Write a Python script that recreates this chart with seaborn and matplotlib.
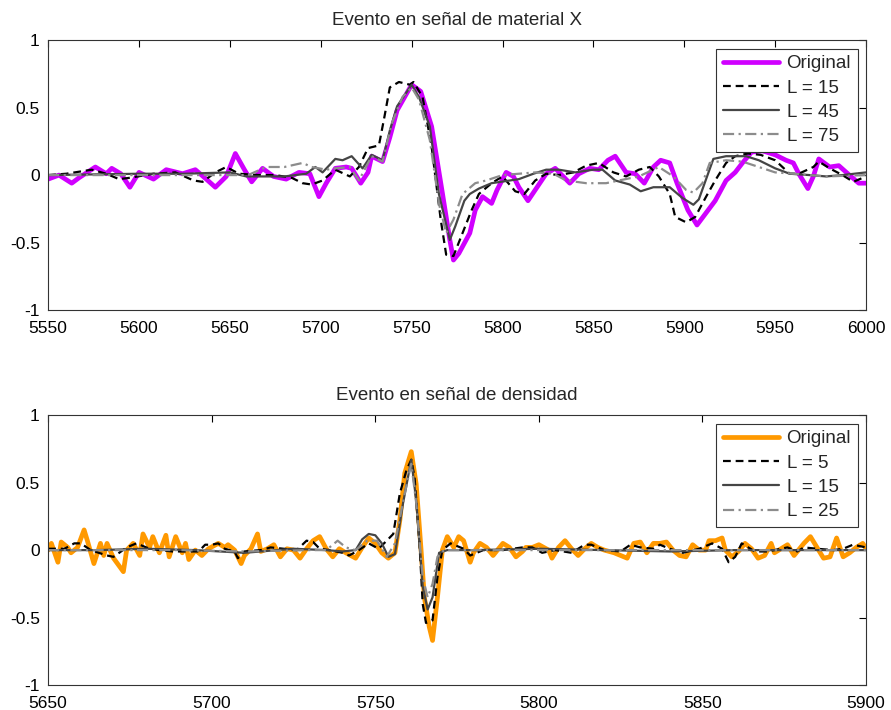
import matplotlib
matplotlib.use("Agg")
import matplotlib.pyplot as plt
import seaborn as sns

# ---- Evento en señal de material X ----
mat_orig_x = [5550, 5556, 5563, 5567, 5576, 5582, 5585, 5590, 5595, 5600, 5608, 5615, 5624, 5631, 5637,
              5642, 5648, 5653, 5658, 5662, 5668, 5674, 5681, 5688, 5694, 5699, 5703, 5708, 5714, 5717,
              5722, 5726, 5728, 5734, 5738, 5742, 5750, 5755, 5761, 5767, 5771, 5773, 5776, 5782, 5785,
              5789, 5794, 5797, 5802, 5806, 5809, 5814, 5818, 5824, 5829, 5837, 5842, 5848, 5853, 5858,
              5862, 5868, 5873, 5878, 5883, 5887, 5892, 5896, 5902, 5907, 5912, 5917, 5923, 5928, 5932,
              5937, 5943, 5950, 5956, 5960, 5963, 5968, 5971, 5974, 5980, 5985, 5990, 5996, 6000]
mat_orig_y = [-0.03, 0.0, -0.06, -0.02, 0.06, 0.01, 0.05, 0.01, -0.09, 0.02, -0.03, 0.04, 0.01, 0.04, -0.03,
              -0.09, -0.01, 0.16, 0.04, -0.05, 0.05, -0.01, -0.03, 0.02, 0.01, -0.16, -0.06, 0.05, 0.06, 0.05,
              -0.06, 0.02, 0.14, 0.10, 0.28, 0.48, 0.67, 0.62, 0.36, -0.14, -0.48, -0.63, -0.58, -0.43, -0.26,
              -0.16, -0.21, -0.11, 0.02, -0.01, -0.09, -0.19, -0.11, 0.01, 0.05, -0.06, 0.01, 0.05, 0.04, 0.11,
              0.14, 0.02, 0.01, -0.06, 0.06, 0.11, 0.09, -0.06, -0.26, -0.37, -0.28, -0.19, -0.04, 0.02, 0.09,
              0.17, 0.18, 0.15, 0.11, 0.09, 0.01, -0.10, -0.01, 0.12, 0.06, 0.07, 0.01, -0.06, -0.06]

mat_l15_x = [5550, 5560, 5574, 5582, 5589, 5595, 5608, 5620, 5630, 5635, 5642, 5648, 5655, 5666, 5675,
             5684, 5690, 5695, 5701, 5708, 5716, 5721, 5726, 5732, 5735, 5738, 5743, 5749, 5751, 5756,
             5761, 5766, 5769, 5773, 5778, 5783, 5787, 5794, 5800, 5807, 5812, 5818, 5824, 5831, 5839,
             5846, 5853, 5861, 5868, 5875, 5881, 5886, 5892, 5895, 5901, 5906, 5912, 5917, 5923, 5928,
             5935, 5942, 5950, 5958, 5963, 5971, 5974, 5980, 5987, 5993, 6000]
mat_l15_y = [0.0, 0.01, 0.04, 0.01, -0.03, -0.02, 0.01, 0.02, -0.04, -0.05, 0.02, 0.06, 0.01, 0.0, 0.0,
             -0.02, -0.06, -0.07, -0.04, 0.04, -0.01, 0.06, 0.20, 0.22, 0.43, 0.65, 0.69, 0.67, 0.69, 0.58,
             0.21, -0.33, -0.59, -0.60, -0.43, -0.26, -0.14, -0.06, -0.01, -0.12, -0.14, -0.04, 0.01, 0.0, 0.02,
             0.07, 0.09, 0.02, -0.01, 0.04, 0.06, -0.01, -0.14, -0.31, -0.35, -0.31, -0.16, -0.04, 0.09, 0.14,
             0.16, 0.15, 0.11, 0.01, 0.01, 0.06, 0.10, 0.05, 0.0, -0.05, -0.01]

mat_l45_x = [5550, 5600, 5625, 5650, 5659, 5680, 5692, 5697, 5701, 5708, 5712, 5717, 5723, 5728, 5734,
             5738, 5742, 5750, 5754, 5760, 5765, 5771, 5774, 5779, 5782, 5787, 5794, 5804, 5809, 5817,
             5824, 5831, 5840, 5850, 5855, 5862, 5870, 5876, 5883, 5892, 5899, 5905, 5908, 5916, 5923,
             5934, 5941, 5950, 5958, 5969, 5978, 5987, 6000]
mat_l45_y = [0.0, 0.01, 0.01, 0.02, -0.01, -0.01, 0.01, 0.06, 0.02, 0.12, 0.11, 0.14, 0.05, 0.15, 0.11,
             0.33, 0.51, 0.67, 0.58, 0.36, -0.14, -0.48, -0.38, -0.19, -0.14, -0.10, -0.06, -0.04, -0.03, 0.01,
             0.04, 0.04, 0.02, 0.04, 0.04, -0.04, -0.07, -0.12, -0.09, -0.09, -0.17, -0.22, -0.18, 0.12, 0.14,
             0.14, 0.11, 0.05, 0.01, 0.0, -0.01, 0.0, 0.02]

mat_l75_x = [5550, 5620, 5660, 5670, 5680, 5690, 5695, 5703, 5708, 5716, 5721, 5728, 5734, 5739, 5745,
             5750, 5754, 5760, 5765, 5769, 5773, 5778, 5785, 5791, 5800, 5809, 5818, 5828, 5835, 5846,
             5857, 5864, 5875, 5886, 5894, 5901, 5905, 5910, 5914, 5923, 5932, 5941, 5950, 5960, 5978, 6000]
mat_l75_y = [0.0, 0.0, 0.0, 0.06, 0.06, 0.09, 0.06, 0.04, 0.05, 0.06, -0.04, 0.14, 0.10, 0.38, 0.58,
             0.65, 0.56, 0.26, -0.21, -0.43, -0.33, -0.14, -0.06, -0.04, 0.0, 0.01, 0.02, 0.01, -0.04, -0.06,
             -0.06, -0.04, -0.01, 0.06, -0.01, -0.11, -0.13, -0.06, 0.09, 0.11, 0.10, 0.06, 0.02, 0.01, -0.01, 0.0]

# ---- Evento en señal de densidad ----
den_orig_x = [5650, 5651, 5653, 5654, 5656, 5657, 5659, 5661, 5662, 5664, 5666, 5667, 5668, 5670, 5673,
              5674, 5676, 5678, 5679, 5681, 5682, 5684, 5686, 5687, 5689, 5691,
              5692, 5693, 5695, 5697, 5699, 5702, 5704, 5705, 5707, 5709, 5710, 5712, 5714, 5715, 5717,
              5719, 5721, 5723, 5725, 5727, 5729, 5731, 5733,
              5735, 5737, 5739, 5741, 5744, 5746, 5748, 5750, 5752, 5754, 5756, 5757.5, 5759, 5761, 5762.5,
              5764, 5765, 5766.5, 5767.5, 5769, 5770.5, 5772, 5774, 5775.5,
              5777, 5779, 5780, 5782, 5784, 5786, 5789, 5791, 5793, 5795, 5796, 5798, 5800, 5803, 5804,
              5806, 5808, 5810, 5812, 5814, 5816, 5818,
              5820, 5823, 5825, 5827, 5829, 5831, 5833, 5835, 5837, 5839, 5841, 5843, 5845, 5847, 5849,
              5851, 5852, 5854, 5856, 5857, 5859, 5861, 5863,
              5865, 5867, 5869, 5871, 5872, 5874, 5876, 5878, 5881, 5883, 5885, 5887, 5889, 5891, 5893,
              5895, 5897, 5899, 5900]
den_orig_y = [0.0, 0.05, -0.09, 0.06, 0.02, -0.02, 0.02, 0.15, 0.07, -0.10, 0.05, -0.04, 0.05, -0.06, -0.16,
              0.0, 0.05, -0.04, 0.12, 0.02, 0.10, -0.02, 0.11, -0.05, 0.10, -0.02,
              0.05, -0.07, 0.0, -0.04, 0.01, 0.05, 0.02, 0.04, 0.0, -0.10, -0.04, 0.01, 0.12, -0.01, 0.01,
              0.04, -0.05, 0.01, 0.0, -0.06, 0.01, 0.07, 0.10,
              0.01, -0.05, 0.01, -0.02, -0.06, 0.02, 0.09, 0.05, -0.02, -0.06, -0.02, 0.22, 0.57, 0.73, 0.49,
              0.0, -0.35, -0.57, -0.67, -0.35, 0.0, 0.10, 0.02, 0.10,
              0.07, -0.09, -0.02, 0.05, 0.02, -0.04, 0.05, 0.02, -0.05, -0.01, 0.02, 0.02, 0.04, 0.0, -0.06,
              0.02, 0.07, 0.01, -0.04, 0.01, 0.05, 0.02,
              0.0, -0.02, -0.04, -0.06, 0.05, 0.06, -0.02, 0.05, 0.05, 0.06, 0.0, -0.04, -0.05, 0.04, 0.0,
              0.0, 0.07, 0.07, 0.09, 0.0, -0.05, -0.01, 0.05,
              0.01, -0.06, -0.04, 0.05, -0.02, 0.01, 0.04, -0.04, 0.05, 0.10, 0.02, -0.06, -0.05, 0.09, -0.05,
              -0.02, 0.02, 0.05, 0.01]

den_l5_x = [5650, 5655, 5658, 5660, 5663, 5668, 5670, 5674, 5677, 5681, 5684, 5688, 5692, 5696, 5698,
            5700, 5702, 5704, 5707, 5708, 5710, 5715, 5718, 5722, 5726, 5729, 5731, 5733, 5736, 5740,
            5742, 5745, 5748, 5751, 5753.5, 5755.5, 5757.5, 5759.5, 5761, 5762, 5763.5, 5764.5, 5765.5, 5767.5, 5769,
            5770.5, 5773, 5777, 5779, 5783, 5789, 5795, 5798, 5801, 5805, 5810, 5814, 5816, 5820, 5825,
            5828, 5831, 5835, 5837, 5840, 5844, 5849, 5853, 5856, 5858, 5860, 5862, 5866, 5870, 5874,
            5876, 5879, 5881, 5885, 5890, 5893, 5896, 5900]
den_l5_y = [0.01, 0.01, 0.05, 0.05, 0.0, -0.04, -0.05, 0.02, 0.05, 0.01, 0.0, -0.01, -0.01, -0.01, 0.04,
            0.04, 0.05, 0.01, -0.01, -0.06, -0.01, 0.0, 0.02, 0.01, 0.0, 0.07, 0.06, 0.01, 0.0, -0.02,
            -0.04, 0.0, 0.05, 0.01, 0.07, 0.12, 0.42, 0.59, 0.67, 0.54, 0.05, -0.40, -0.54, -0.52, -0.20,
            0.0, 0.05, 0.01, -0.04, 0.0, 0.0, 0.02, 0.02, -0.02, 0.0, -0.02, 0.04, 0.04, 0.0, -0.01,
            0.04, 0.02, 0.01, 0.04, 0.01, -0.02, 0.01, 0.05, 0.01, -0.09, -0.05, 0.05, -0.01, -0.01, 0.01,
            0.02, -0.01, 0.02, 0.01, 0.0, 0.01, 0.04, 0.02]

den_l15_x = [5650, 5665, 5680, 5695, 5710, 5725, 5735, 5740, 5744, 5746, 5748, 5750, 5752, 5754, 5756,
             5758.5, 5761, 5762.5, 5764.5, 5766, 5767.5, 5769.5, 5772, 5780, 5800, 5820, 5840, 5860, 5880, 5900]
den_l15_y = [0.0, 0.0, 0.01, 0.0, -0.02, 0.01, 0.0, -0.01, 0.0, 0.08, 0.12, 0.11, 0.05, -0.05, -0.03,
             0.35, 0.67, 0.37, -0.27, -0.44, -0.35, -0.02, 0.0, 0.0, 0.01, 0.0, -0.01, 0.0, 0.0, 0.0]

den_l25_x = [5650, 5670, 5690, 5710, 5730, 5735, 5738.5, 5741, 5744, 5747.5, 5750.5, 5753.5, 5756, 5759,
             5761, 5762.5, 5764.5, 5766, 5767.5, 5769, 5771, 5780, 5800, 5830, 5860, 5900]
den_l25_y = [0.0, 0.0, 0.0, -0.01, 0.0, 0.0, 0.07, 0.02, 0.0, 0.07, 0.07, -0.05, 0.05, 0.42,
             0.64, 0.35, -0.20, -0.35, -0.25, -0.05, 0.0, 0.0, 0.0, 0.0, 0.0, 0.0]

top_labels = ["Original", "L = 15", "L = 45", "L = 75"]
bottom_labels = ["Original", "L = 5", "L = 15", "L = 25"]
top_xticks = [5550, 5600, 5650, 5700, 5750, 5800, 5850, 5900, 5950, 6000]
bottom_xticks = [5650, 5700, 5750, 5800, 5850, 5900]
yticks = [-1, -0.5, 0, 0.5, 1]
ytick_labels = ["-1", "-0.5", "0", "0.5", "1"]

sns.set_style("white")
plt.rcParams['font.family'] = ['Liberation Sans', 'DejaVu Sans']

fig = plt.figure(figsize=(8.91, 7.10), dpi=100)
ax1 = fig.add_axes([0.054, 0.5634, 0.918, 0.380])
ax2 = fig.add_axes([0.054, 0.0352, 0.918, 0.380])

dash = (0, (3.5, 2.2))
dashdot = (0, (5, 2, 1, 2))


def draw(ax, series, colors, widths, styles, labels, xlim, xticks, title):
    for (xs, ys), c, lw, ls, lab in zip(series, colors, widths, styles, labels):
        sns.lineplot(x=xs, y=ys, ax=ax, color=c, linewidth=lw, linestyle=ls,
                     label=lab, estimator=None, sort=False)
    ax.set_xlim(*xlim)
    ax.set_ylim(-1, 1)
    ax.set_xticks(xticks)
    ax.set_xticklabels([str(t) for t in xticks])
    ax.set_yticks(yticks)
    ax.set_yticklabels(ytick_labels)
    ax.tick_params(direction='in', length=5, width=0.8, top=True, right=True,
                   labelsize=12.5, colors='black')
    ax.tick_params(axis='x', pad=8)
    ax.tick_params(axis='y', pad=6)
    for s in ax.spines.values():
        s.set_visible(True)
        s.set_color('#333333')
        s.set_linewidth(0.8)
    ax.set_title(title, fontsize=13.5, pad=11)
    ax.set_xlabel('')
    ax.set_ylabel('')
    leg = ax.legend(loc='upper right', fontsize=13.5, handlelength=3.0, handletextpad=0.4,
                    labelspacing=0.38, borderpad=0.35, borderaxespad=0.45, fancybox=False,
                    framealpha=1)
    leg.get_frame().set_edgecolor('#333333')
    leg.get_frame().set_linewidth(0.8)


draw(ax1,
     [(mat_orig_x, mat_orig_y), (mat_l15_x, mat_l15_y), (mat_l45_x, mat_l45_y), (mat_l75_x, mat_l75_y)],
     ['#D000FF', 'black', '#454545', '#8C8C8C'],
     [3.4, 1.6, 1.6, 1.6],
     ['-', dash, '-', dashdot],
     top_labels, (5550, 6000), top_xticks, 'Evento en señal de material X')

draw(ax2,
     [(den_orig_x, den_orig_y), (den_l5_x, den_l5_y), (den_l15_x, den_l15_y), (den_l25_x, den_l25_y)],
     ['#FF9900', 'black', '#454545', '#8C8C8C'],
     [3.4, 1.6, 1.6, 1.6],
     ['-', dash, '-', dashdot],
     bottom_labels, (5650, 5900), bottom_xticks, 'Evento en señal de densidad')

fig.savefig('out.png', dpi=100)
